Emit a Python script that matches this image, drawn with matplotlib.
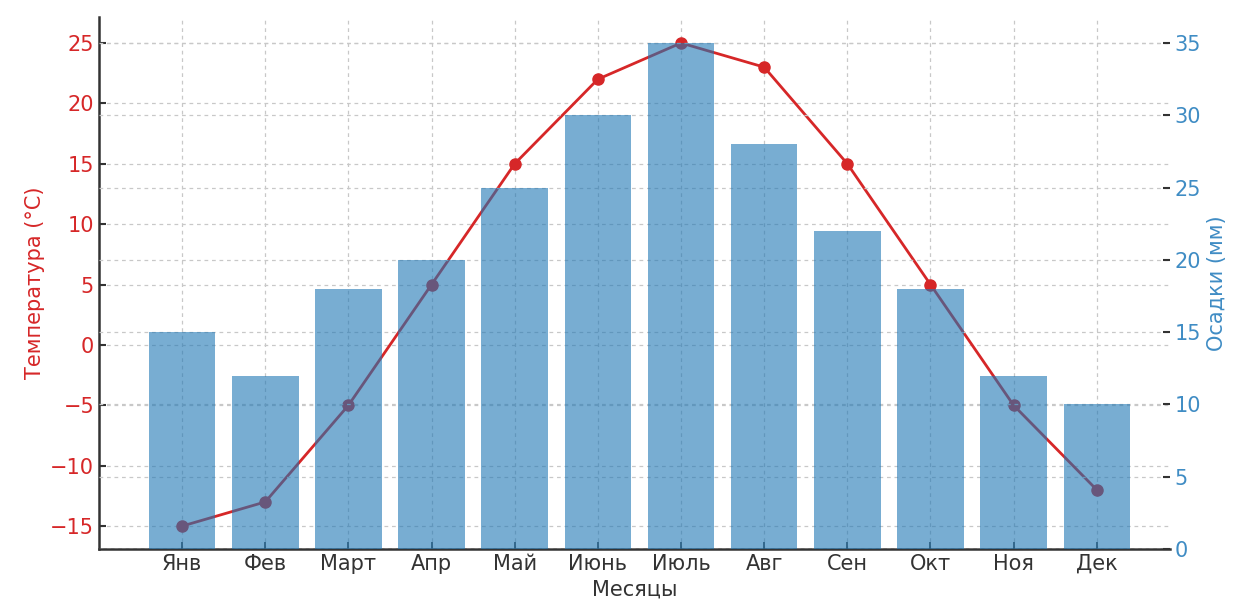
import matplotlib
matplotlib.use("Agg")
import matplotlib.pyplot as plt
import numpy as np

months = ["Янв", "Фев", "Март", "Апр", "Май", "Июнь", "Июль", "Авг", "Сен", "Окт", "Ноя", "Дек"]
temperature = [-15, -13, -5, 5, 15, 22, 25, 23, 15, 5, -5, -12]
precipitation = [15, 12, 18, 20, 25, 30, 35, 28, 22, 18, 12, 10]

plt.rcParams['font.family'] = ['DejaVu Sans']
fs = 15
grid_kw = dict(ls=(0, (3, 3)), color='#c8c8c8', lw=0.9)

fig = plt.figure(figsize=(12.4, 6.08), dpi=100)
ax1 = fig.add_axes([0.0798, 0.097, 0.8637, 0.875])
x = np.arange(len(months))

ax1.plot(x, temperature, color='tab:red', lw=2, marker='o', markersize=8, zorder=2)
ax1.set_ylim(-16.9, 27.15)
ax1.set_xlim(-1.0, 11.88)
ax1.set_xticks(x)
ax1.set_xticklabels(months, fontsize=fs, color='#333333')
ax1.set_xlabel("Месяцы", fontsize=fs, color='#333333')
ax1.set_ylabel("Температура (°C)", fontsize=fs, color='tab:red')
ax1.tick_params(axis='y', labelcolor='tab:red', labelsize=fs, direction='in', color='#333333', length=5, width=1.5)
ax1.tick_params(axis='x', direction='in', color='#333333', length=5, width=1.2)
ax1.grid(True, **grid_kw)

ax2 = ax1.twinx()
ax2.bar(x, precipitation, width=0.8, color='tab:blue', alpha=0.6, zorder=2)
ax2.set_ylim(0, 36.8)
ax2.set_ylabel("Осадки (мм)", fontsize=fs, color='#3f8cc4')
ax2.tick_params(axis='y', labelcolor='#3f8cc4', labelsize=fs, direction='in', color='#333333', length=5, width=1.5)
ax2.set_axisbelow(True)
ax2.grid(True, axis='y', **grid_kw)

for ax in (ax1, ax2):
    ax.spines['top'].set_visible(False)
    ax.spines['right'].set_visible(False)
ax2.spines['left'].set_visible(False)
ax2.spines['bottom'].set_visible(False)
ax1.spines['left'].set_color('#333333')
ax1.spines['bottom'].set_color('#333333')
ax1.spines['left'].set_linewidth(1.8)
ax1.spines['bottom'].set_linewidth(1.8)

fig.savefig("out.png", dpi=100)
